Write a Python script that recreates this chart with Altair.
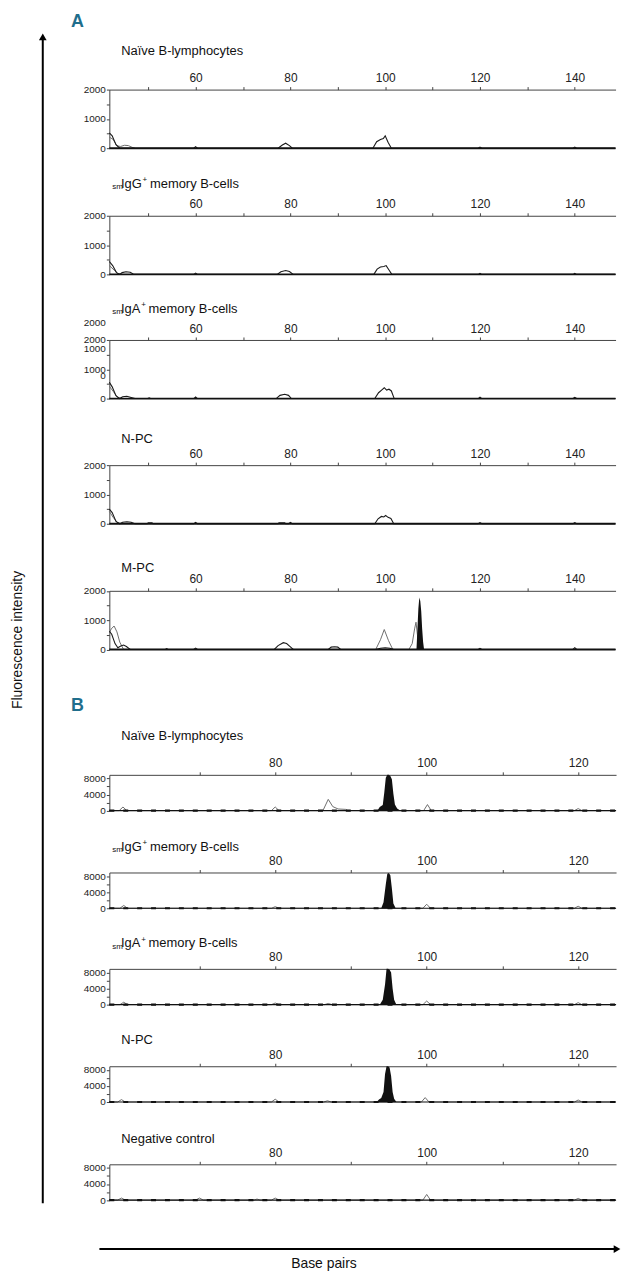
import altair as alt
import pandas as pd

FONT = "Liberation Sans, Arial, sans-serif"

# ---------------- axis values ----------------
A_xdomain = [41.8, 148.6]
A_xticks = [50, 60, 70, 80, 90, 100, 110, 120, 130, 140]
A_ydomain = [0, 2000]
A_yticks = [0, 500, 1000, 1500, 2000]
B_xdomain = [58.1, 125.0]
B_xticks = [70, 80, 90, 100, 110, 120]
B_ydomain = [0, 8900]
B_yticks = [0, 2000, 4000, 6000, 8000]

# baselines of the traces
A_base_bp = [41.8, 148.6]
A_base_val = [0, 0]
B_base_bp = [58.1, 125.0]
B_base_val = [0, 0]

# ---------------- panel A traces ----------------
A1_dark_bp = [41.8, 42.4, 43.2, 44.0, 59.6, 60.0, 60.4, 77.4, 78.3, 79.0, 79.8, 80.4, 97.4, 98.2, 99.0, 99.6, 100.0, 100.6, 101.3, 119.6, 120.0, 120.4, 139.6, 140.0, 140.4, 148.6]
A1_dark_val = [520, 420, 120, 0, 0, 50, 0, 0, 110, 170, 90, 0, 0, 220, 300, 330, 420, 200, 0, 0, 40, 0, 0, 40, 0, 0]
A1_gray_bp = [41.8, 42.6, 43.4, 44.2, 45.0, 45.8, 46.6, 47.2]
A1_gray_val = [380, 300, 80, 60, 100, 90, 30, 0]

A2_dark_bp = [41.8, 42.5, 43.3, 44.0, 44.5, 45.3, 46.2, 47.0, 59.6, 60.0, 60.4, 77.2, 78.0, 79.0, 79.8, 80.6, 97.6, 98.3, 99.0, 99.7, 100.2, 100.8, 101.4, 119.6, 120.0, 120.4, 139.6, 140.0, 140.4, 148.6]
A2_dark_val = [440, 300, 60, 0, 60, 90, 70, 0, 0, 45, 0, 0, 90, 130, 100, 0, 0, 180, 250, 270, 300, 150, 0, 0, 35, 0, 0, 35, 0, 0]
A2_gray_bp = [41.8, 42.8, 43.6, 44.4]
A2_gray_val = [300, 150, 30, 0]

A3_dark_bp = [41.8, 42.4, 43.2, 44.0, 44.6, 45.5, 46.4, 47.2, 49.9, 50.2, 50.5, 59.6, 60.0, 60.4, 77.0, 77.8, 78.8, 79.6, 80.2, 97.8, 98.6, 99.3, 99.8, 100.3, 100.8, 101.3, 101.9, 119.6, 120.0, 120.4, 139.6, 140.0, 140.4, 148.6]
A3_dark_val = [560, 400, 100, 0, 60, 80, 40, 0, 0, 25, 0, 0, 55, 0, 0, 110, 145, 110, 0, 0, 200, 300, 370, 290, 320, 260, 0, 0, 45, 0, 0, 40, 0, 0]
A3_gray_bp = [41.8, 42.6, 43.5, 44.3]
A3_gray_val = [420, 250, 40, 0]
A3_extra_labels = ["2000", "1000", "0"]

A4_dark_bp = [41.8, 42.4, 43.2, 44.0, 44.6, 45.5, 46.4, 47.2, 49.8, 50.0, 50.8, 51.0, 59.6, 60.0, 60.4, 77.4, 77.6, 78.8, 79.0, 79.6, 80.0, 80.4, 97.8, 98.5, 99.2, 99.7, 100.1, 100.6, 101.2, 101.8, 119.6, 120.0, 120.4, 139.6, 140.0, 140.4, 148.6]
A4_dark_val = [500, 380, 80, 0, 50, 70, 50, 0, 0, 30, 30, 0, 0, 45, 0, 0, 30, 30, 0, 0, 45, 0, 0, 170, 250, 230, 280, 220, 180, 0, 0, 40, 0, 0, 35, 0, 0]
A4_gray_bp = [41.8, 42.6, 43.5, 44.3]
A4_gray_val = [420, 220, 40, 0]

A5_dark_bp = [41.8, 42.3, 43.0, 43.6, 44.2, 44.8, 45.4, 46.2, 53.6, 53.9, 54.2, 59.6, 60.0, 60.4, 76.6, 77.4, 78.5, 79.2, 80.0, 80.6, 88.0, 88.6, 89.3, 90.0, 90.6, 98.0, 99.0, 100.0, 101.0, 101.8, 119.6, 120.0, 120.4, 139.6, 140.0, 140.4, 148.6]
A5_dark_val = [620, 520, 200, 60, 120, 150, 100, 0, 0, 30, 0, 0, 45, 0, 0, 130, 230, 200, 90, 0, 0, 80, 90, 80, 0, 0, 40, 60, 40, 0, 0, 35, 0, 0, 60, 0, 0]
A5_gray_bp = [41.8, 42.2, 42.8, 43.4, 44.0, 44.8, 98.0, 99.0, 99.8, 100.7, 101.6, 105.0, 105.7, 106.2, 106.5, 106.8, 107.2]
A5_gray_val = [560, 700, 800, 600, 250, 0, 0, 330, 680, 300, 0, 0, 200, 700, 930, 500, 0]
A5_fill_bp = [106.6, 106.8, 107.0, 107.2, 107.4, 107.6, 107.8, 108.0, 108.2]
A5_fill_val = [0, 700, 1400, 1770, 1650, 1300, 700, 250, 0]

# ---------------- panel B traces ----------------
B1_gray_bp = [58.1, 59.4, 59.9, 60.4, 79.5, 80.0, 80.5, 86.3, 87.0, 87.6, 88.3, 89.3, 89.6, 99.6, 100.1, 100.6, 119.5, 120.0, 120.5, 125.0]
B1_gray_val = [0, 0, 900, 0, 0, 900, 0, 0, 2800, 1000, 400, 300, 0, 0, 1500, 0, 0, 500, 0, 0]
B1_fill_bp = [93.5, 93.8, 94.2, 94.4, 94.6, 94.8, 95.0, 95.2, 95.4, 95.6, 95.8, 96.1, 96.5]
B1_fill_val = [0, 900, 1400, 4500, 8200, 8900, 8900, 8600, 7800, 4200, 1500, 500, 0]

B2_gray_bp = [58.1, 59.5, 60.0, 60.5, 79.5, 80.0, 80.5, 99.5, 100.0, 100.5, 119.5, 120.0, 120.5, 125.0]
B2_gray_val = [0, 0, 700, 0, 0, 400, 0, 0, 1000, 0, 0, 500, 0, 0]
B2_fill_bp = [94.0, 94.3, 94.6, 94.8, 95.0, 95.2, 95.4, 95.6, 95.9]
B2_fill_val = [0, 1500, 6000, 8600, 8800, 8200, 5000, 1200, 0]

B3_gray_bp = [58.1, 59.5, 60.0, 60.5, 79.5, 80.0, 80.5, 86.5, 87.0, 87.5, 99.5, 100.0, 100.5, 119.5, 120.0, 120.5, 125.0]
B3_gray_val = [0, 0, 600, 0, 0, 400, 0, 0, 300, 0, 0, 900, 0, 0, 500, 0, 0]
B3_fill_bp = [93.8, 94.2, 94.5, 94.7, 94.9, 95.1, 95.3, 95.5, 95.7, 96.0]
B3_fill_val = [0, 1200, 5000, 8900, 8900, 8700, 8000, 4000, 1200, 0]

B4_gray_bp = [58.1, 59.2, 59.7, 60.2, 79.5, 80.0, 80.5, 86.4, 86.9, 87.4, 99.3, 99.8, 100.3, 119.5, 120.0, 120.5, 125.0]
B4_gray_val = [0, 0, 600, 0, 0, 700, 0, 0, 300, 0, 0, 1100, 0, 0, 500, 0, 0]
B4_fill_bp = [93.4, 93.7, 94.0, 94.3, 94.5, 94.7, 94.9, 95.1, 95.3, 95.5, 95.7, 96.0]
B4_fill_val = [0, 600, 1000, 2500, 7000, 8900, 8900, 8600, 6500, 2500, 800, 0]

B5_gray_bp = [58.1, 59.2, 59.7, 60.2, 69.5, 70.0, 70.5, 77.2, 77.6, 78.0, 79.5, 80.0, 80.5, 99.5, 100.0, 100.5, 119.5, 120.0, 120.5, 125.0]
B5_gray_val = [0, 0, 500, 0, 0, 500, 0, 0, 250, 0, 0, 500, 0, 0, 1400, 0, 0, 400, 0, 0]

# ---------------- layout (view px; page = view + 8) ----------------
LEFT = 102
A_RIGHT = 611.5
B_RIGHT = 612
A_tops = [78, 205, 330, 456, 582.5]
A_h = 59
B_tops = [767.7, 866, 963, 1061, 1159.7]
B_h = 36


def panel(gray, dark, fill, base_tr, xdom, xright, xticks, xlab, ydom, yticks, ylab, top, h, base_w, dashed):
    rows = []
    for s, tr in (("gray", gray), ("dark", dark), ("fill", fill), ("base", base_tr)):
        if tr is None:
            continue
        for b, v in zip(tr[0], tr[1]):
            rows.append({"bp": b, "val": v, "s": s})
    df = pd.DataFrame(rows)
    X = alt.X("bp:Q",
              scale=alt.Scale(domain=xdom, range=[LEFT, xright], nice=False, zero=False),
              axis=alt.Axis(orient="top", offset=-top, values=xticks, format="d",
                            labelExpr=f"datum.value % {xlab} === 0 ? datum.label : ''",
                            labelFontSize=12, tickSize=3, labelPadding=2,
                            labelFlush=False, labelOverlap=False, title=None, grid=False))
    Y = alt.Y("val:Q",
              scale=alt.Scale(domain=ydom, range=[top + h, top], nice=False, zero=True),
              axis=alt.Axis(orient="left", offset=-LEFT, values=yticks, format="d",
                            labelExpr=f"datum.value % {ylab} === 0 ? datum.label : ''",
                            labelFontSize=10, tickSize=3, labelPadding=1,
                            labelFlush=False, labelOverlap=False, title=None, grid=False))
    base = alt.Chart(df).encode(x=X, y=Y)
    layers = [base.transform_filter("datum.s === 'gray'").mark_line(color="#6e6e6e", strokeWidth=1)]
    if fill is not None:
        layers.append(base.transform_filter("datum.s === 'fill'").mark_area(color="#111111", line=False))
    if dark is not None:
        layers.append(base.transform_filter("datum.s === 'dark'").mark_line(color="#1a1a1a", strokeWidth=1.1))
    layers.append(base.transform_filter("datum.s === 'base'").mark_line(color="#111111", strokeWidth=base_w))
    if dashed:
        layers.append(base.transform_filter("datum.s === 'base'").mark_line(
            color="#111111", strokeWidth=2.2, strokeDash=[5, 9]))
    return alt.layer(*layers)


dummy = pd.DataFrame({"d": [0]})


def txt(text, x, y, size, align="left", **kw):
    return alt.Chart(dummy).mark_text(text=text, fontSize=size, font=FONT, align=align,
                                      baseline="middle", color=kw.pop("color", "#111111"), **kw
                                      ).encode(x=alt.value(x), y=alt.value(y))


def title_plain(text, y):
    return [txt(text, 114, y, 13)]


def title_sub(ig, y):
    w = {"IgG": 20.9, "IgA": 19.5}[ig]
    plus_x = 113.7 + w + 0.8
    return [txt("sm", 105, y + 3.5, 8),
            txt(ig, 113.7, y, 13),
            txt("+", plus_x, y - 3.5, 8),
            txt("memory B-cells", plus_x + 7.5, y, 13)]


subs = []
A_traces = [
    ((A1_gray_bp, A1_gray_val), (A1_dark_bp, A1_dark_val), None),
    ((A2_gray_bp, A2_gray_val), (A2_dark_bp, A2_dark_val), None),
    ((A3_gray_bp, A3_gray_val), (A3_dark_bp, A3_dark_val), None),
    ((A4_gray_bp, A4_gray_val), (A4_dark_bp, A4_dark_val), None),
    ((A5_gray_bp, A5_gray_val), (A5_dark_bp, A5_dark_val), (A5_fill_bp, A5_fill_val)),
]
for (g, d, f), top in zip(A_traces, A_tops):
    subs.append(panel(g, d, f, (A_base_bp, A_base_val), A_xdomain, A_RIGHT, A_xticks, 20,
                      A_ydomain, A_yticks, 1000, top, A_h, 1.9, False))

B_traces = [
    ((B1_gray_bp, B1_gray_val), (B1_fill_bp, B1_fill_val)),
    ((B2_gray_bp, B2_gray_val), (B2_fill_bp, B2_fill_val)),
    ((B3_gray_bp, B3_gray_val), (B3_fill_bp, B3_fill_val)),
    ((B4_gray_bp, B4_gray_val), (B4_fill_bp, B4_fill_val)),
    ((B5_gray_bp, B5_gray_val), None),
]
for (g, f), top in zip(B_traces, B_tops):
    subs.append(panel(g, None, f, (B_base_bp, B_base_val), B_xdomain, B_RIGHT, B_xticks, 20,
                      B_ydomain, B_yticks, 4000, top, B_h, 1.2, True))

decos = []
# panel letters
decos.append(txt("A", 70, 10, 18, align="center", fontWeight="bold", color="#1f6e8c"))
decos.append(txt("B", 70, 698, 18, align="center", fontWeight="bold", color="#1f6e8c"))
# subplot titles
decos += title_plain("Naïve B-lymphocytes", 39)
decos += title_sub("IgG", 173)
decos += title_sub("IgA", 298.7)
decos += title_plain("N-PC", 430)
decos += title_plain("M-PC", 560)
decos += title_plain("Naïve B-lymphocytes", 728.7)
decos += title_sub("IgG", 840)
decos += title_sub("IgA", 937)
decos += title_plain("N-PC", 1035)
decos += title_plain("Negative control", 1134.7)
# duplicated y labels of the third A trace (as in the original figure)
for lab, yy in zip(A3_extra_labels, [312.7, 339, 366]):
    decos.append(txt(lab, 98.5, yy, 10, align="right", color="#222222"))
# axis arrows and titles
decos.append(alt.Chart(dummy).mark_rule(color="black", strokeWidth=2).encode(
    x=alt.value(35), y=alt.value(28), y2=alt.value(1199)))
decos.append(alt.Chart(dummy).mark_point(shape="triangle-up", filled=True, size=60, color="black", opacity=1).encode(
    x=alt.value(35), y=alt.value(25)))
decos.append(alt.Chart(dummy).mark_rule(color="black", strokeWidth=2).encode(
    x=alt.value(92), x2=alt.value(610), y=alt.value(1245)))
decos.append(alt.Chart(dummy).mark_point(shape="triangle-right", filled=True, size=60, color="black", opacity=1).encode(
    x=alt.value(613), y=alt.value(1245)))
decos.append(txt("Fluorescence intensity", 10, 632, 14, align="center", angle=270))
decos.append(txt("Base pairs", 318, 1260, 14, align="center"))

chart = alt.layer(*subs, *decos).resolve_scale(
    x="independent", y="independent"
).resolve_axis(
    x="independent", y="independent"
).properties(
    width=620, height=1266, padding=0
).configure_view(
    stroke=None
).configure_axis(
    labelFont=FONT, labelColor="#222222", domainColor="#444444", tickColor="#444444",
    domainWidth=1, tickWidth=1
)

chart.save("out.html", embed_options={"renderer": "svg", "actions": False})
